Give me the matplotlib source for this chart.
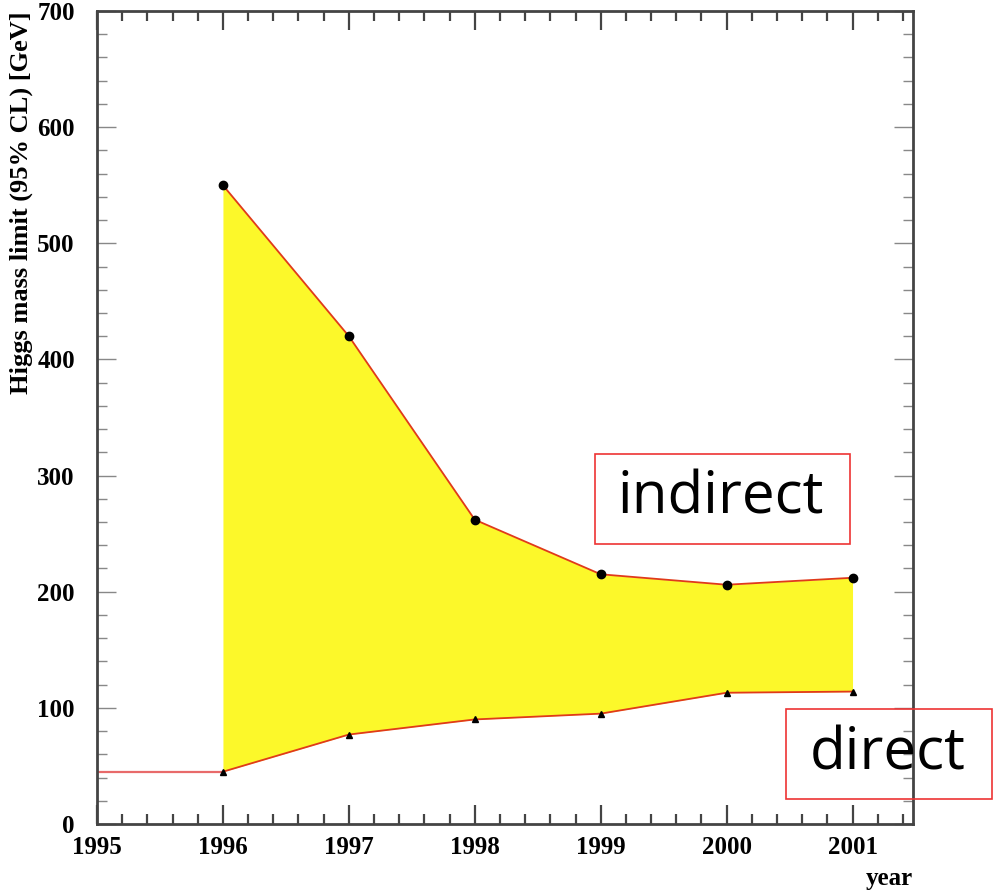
import numpy as np
import matplotlib
matplotlib.use("Agg")
import matplotlib.pyplot as plt
from matplotlib.patches import Rectangle
from matplotlib.ticker import MultipleLocator

# values
years_direct = [1995, 1996, 1997, 1998, 1999, 2000, 2001]
direct_limit = [45, 45, 77, 90, 95, 113, 114]
years_indirect = [1996, 1997, 1998, 1999, 2000, 2001]
indirect_limit = [550, 420, 262, 215, 206, 212]
x_ticks = [1995, 1996, 1997, 1998, 1999, 2000, 2001]
y_ticks = [0, 100, 200, 300, 400, 500, 600, 700]

serif = ["Liberation Serif", "DejaVu Serif"]

fig = plt.figure(figsize=(9.93, 8.9), dpi=100)
ax = fig.add_axes([0.0977, 0.0742, 0.8217, 0.9134])

# band between the two limits
direct_band = direct_limit[1:]
ax.fill_between(years_indirect, direct_band, indirect_limit, color="#fcf82a", lw=0, zorder=1)

ax.plot(years_direct[:2], direct_limit[:2], color="#e86a6a", lw=1.6, zorder=2)
ax.plot(years_direct[1:], direct_limit[1:], color="#e03a1a", lw=1.3, zorder=2)
ax.plot(years_indirect, indirect_limit, color="#e03a1a", lw=1.3, zorder=2)
ax.plot(years_direct[1:], direct_limit[1:], ls="none", marker="^", ms=5, color="black", zorder=3)
ax.plot(years_indirect, indirect_limit, ls="none", marker="o", ms=6, color="black", zorder=3)

ax.set_xlim(1995, 2001.48)
ax.set_ylim(0, 700)
ax.set_xticks(x_ticks)
ax.set_yticks(y_ticks)
ax.set_xticklabels([str(x) for x in x_ticks], fontfamily=serif, fontweight="bold", fontsize=18)
ax.set_yticklabels([str(y) for y in y_ticks], fontfamily=serif, fontweight="bold", fontsize=18)
ax.xaxis.set_minor_locator(MultipleLocator(0.2))
ax.yaxis.set_minor_locator(MultipleLocator(20))
ax.tick_params(which="both", direction="in", top=True, right=True)
ax.tick_params(which="major", length=14)
ax.tick_params(which="minor", length=7)
ax.tick_params(axis="x", which="both", color="#444444", width=1.6, pad=9)
ax.tick_params(axis="y", which="both", color="#888888", width=1.0, pad=16)
for s in ax.spines.values():
    s.set_color("#444444")
    s.set_linewidth(2)

ax.set_ylabel("Higgs mass limit (95% CL) [GeV]", fontfamily=serif, fontweight="bold",
              fontsize=19, loc="top", labelpad=3)
fig.text(0.919, 0.0, "year", fontfamily=serif, fontweight="bold", fontsize=18,
         ha="right", va="bottom")

# annotation boxes
W, H = 993, 890
for (x0, y0, x1, y1), label, cx, cy in [((595, 454, 850, 544), "indirect", 721, 498),
                                        ((786, 709, 992, 799), "direct", 888, 754)]:
    fig.patches.append(Rectangle((x0 / W, 1 - y1 / H), (x1 - x0) / W, (y1 - y0) / H,
                                 transform=fig.transFigure, fill=False,
                                 edgecolor="#ee3333", lw=1.2, zorder=5))
    fig.text(cx / W, 1 - cy / H, label, fontfamily=["Open Sans", "DejaVu Sans"],
             fontsize=42, ha="center", va="center", zorder=6)

fig.savefig("out.png", dpi=100)
